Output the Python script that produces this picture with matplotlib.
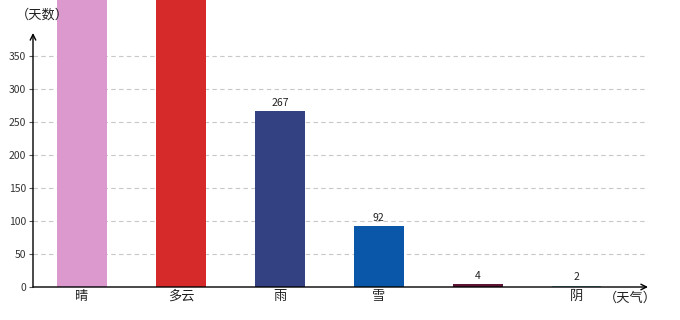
import matplotlib
matplotlib.use("Agg")
import matplotlib.pyplot as plt

plt.rcParams['font.family'] = ['Noto Sans CJK SC', 'DejaVu Sans']

categories = ["晴", "多云", "雨", "雪", "", "阴"]
values = [480, 470, 267, 92, 4, 2]
labels = ["", "", "267", "92", "4", "2"]
colors = ["#DC99CE", "#D62A2A", "#334183", "#0A56A8", "#5E1434", "#6DB0C2"]
yticks = [0, 50, 100, 150, 200, 250, 300, 350]

fig = plt.figure(figsize=(6.8, 3.2), dpi=100)
ax = fig.add_axes([33/680, 1-287/320, (648-33)/680, 287/320])
x = list(range(len(categories)))
ax.bar(x, values, width=0.5, color=colors, zorder=2)
for xi, v, lab in zip(x, values, labels):
    if lab:
        ax.text(xi, v + 5, lab, ha="center", va="bottom", fontsize=7.5, color="#222222")

ax.set_xlim(-0.495, 5.72)
ax.set_ylim(0, 435)
ax.set_yticks(yticks)
ax.set_yticklabels([str(t) for t in yticks], fontsize=7.5, color="#333333")
ax.set_xticks(x)
ax.set_xticklabels(categories, fontsize=9.5, color="#222222")
ax.tick_params(axis="x", length=0, pad=2)
ax.tick_params(axis="y", length=3, pad=2, color="#555555")
for t in yticks[1:]:
    ax.axhline(t, color="#C8C8C8", linestyle=(0, (4, 3)), linewidth=0.8, zorder=1)
for s in ax.spines.values():
    s.set_visible(False)

# axes with arrows
ax.annotate("", xy=(-0.495, 385), xytext=(-0.495, 0),
            arrowprops=dict(arrowstyle="->", color="black", lw=1, shrinkA=0, shrinkB=0),
            annotation_clip=False)
ax.annotate("", xy=(5.72, 0), xytext=(-0.495, 0),
            arrowprops=dict(arrowstyle="->", color="black", lw=1, shrinkA=0, shrinkB=0),
            annotation_clip=False)

fig.text(16/680, 1-15/320, "（天数）", fontsize=9.5, va="center", ha="left", color="#222222")
fig.text(604/680, 1-298/320, "（天气）", fontsize=9.5, va="center", ha="left", color="#222222")

fig.savefig("out.png", dpi=100)
